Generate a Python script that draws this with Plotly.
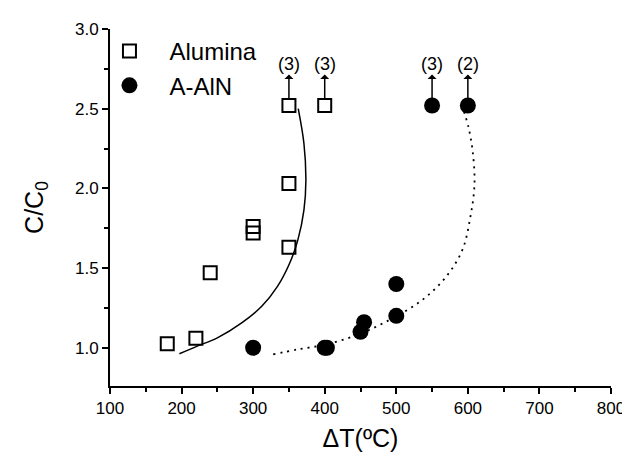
import plotly.graph_objects as go

# Data
alumina_x = [180, 220, 240, 300, 300, 350, 350, 350, 400]
alumina_y = [1.025, 1.06, 1.47, 1.76, 1.72, 2.03, 1.63, 2.52, 2.52]

aaln_x = [300, 400, 403, 450, 455, 500, 500, 550, 600]
aaln_y = [1.00, 1.00, 1.00, 1.10, 1.16, 1.20, 1.40, 2.52, 2.52]

fit_alumina_x = [197, 222, 250, 284, 312, 334, 351, 362.5, 371, 373.7, 371, 363]
fit_alumina_y = [0.962, 1.01, 1.062, 1.156, 1.26, 1.385, 1.53, 1.677, 1.865, 2.05, 2.28, 2.50]

fit_aaln_x = [328, 362.5, 401.7, 446.6, 491.5, 536.3, 570, 592.4, 603.6, 609.3, 606.5, 600.8, 594]
fit_aaln_y = [0.958, 0.99, 1.02, 1.083, 1.177, 1.30, 1.448, 1.615, 1.823, 2.03, 2.24, 2.385, 2.49]

arrow_x = [350, 400, 550, 600]
arrow_labels = ["(3)", "(3)", "(3)", "(2)"]
arrow_base = 2.567
label_y = 2.78

FONT = "Liberation Sans, Arial, sans-serif"

fig = go.Figure()

fig.add_trace(go.Scatter(x=fit_alumina_x, y=fit_alumina_y, mode="lines",
                         line=dict(color="black", width=1.5, shape="spline"),
                         showlegend=False, hoverinfo="skip"))
fig.add_trace(go.Scatter(x=fit_aaln_x, y=fit_aaln_y, mode="lines",
                         line=dict(color="black", width=1.8, dash="2px,5px", shape="spline"),
                         showlegend=False, hoverinfo="skip"))

fig.add_trace(go.Scatter(x=alumina_x, y=alumina_y, mode="markers", name="Alumina",
                         marker=dict(symbol="square-open", size=13, color="black",
                                     line=dict(width=2, color="black"))))
fig.add_trace(go.Scatter(x=aaln_x, y=aaln_y, mode="markers", name="A-AlN",
                         marker=dict(symbol="circle", size=16, color="black")))

for xv, lab in zip(arrow_x, arrow_labels):
    fig.add_annotation(x=xv, y=arrow_base, ax=xv, ay=label_y, xref="x", yref="y",
                       axref="x", ayref="y", text=lab, showarrow=True,
                       arrowside="start", arrowhead=2, arrowsize=1.7, arrowwidth=1.5,
                       arrowcolor="black", borderpad=0, standoff=0, startstandoff=0,
                       font=dict(family=FONT, size=18, color="black"))

fig.update_layout(
    width=630, height=453,
    margin=dict(l=102, r=27, t=17, b=75),
    paper_bgcolor="white", plot_bgcolor="white",
    font=dict(family=FONT, color="black", size=17),
    legend=dict(x=-0.041, y=1.0, xanchor="left", yanchor="top", itemwidth=70,
                font=dict(family=FONT, size=24, color="black"),
                bgcolor="rgba(0,0,0,0)", tracegroupgap=0),
    xaxis=dict(range=[100, 800], tickmode="array", tickvals=[100, 200, 300, 400, 500, 600, 700, 800],
               ticks="outside", ticklen=6, tickwidth=1.5, tickcolor="black",
               showline=True, linecolor="black", linewidth=2, showgrid=False, zeroline=False,
               minor=dict(tickvals=[150, 250, 350, 450, 550, 650, 750], ticks="outside", ticklen=4,
                          tickwidth=1.5, tickcolor="black"),
               tickfont=dict(size=17),
               title=dict(text="ΔT(ºC)", font=dict(size=25), standoff=12)),
    yaxis=dict(range=[0.76, 3.0], tickmode="array", tickvals=[1.0, 1.5, 2.0, 2.5, 3.0],
               ticktext=["1.0", "1.5", "2.0", "2.5", "3.0"],
               ticks="outside", ticklen=6, tickwidth=1.5, tickcolor="black",
               showline=True, linecolor="black", linewidth=2, showgrid=False, zeroline=False,
               minor=dict(tickvals=[1.25, 1.75, 2.25, 2.75], ticks="outside", ticklen=4,
                          tickwidth=1.5, tickcolor="black"),
               tickfont=dict(size=17),
               title=dict(text="C/C<sub>0</sub>", font=dict(size=25), standoff=24)),
)

fig.write_html("out.html")
